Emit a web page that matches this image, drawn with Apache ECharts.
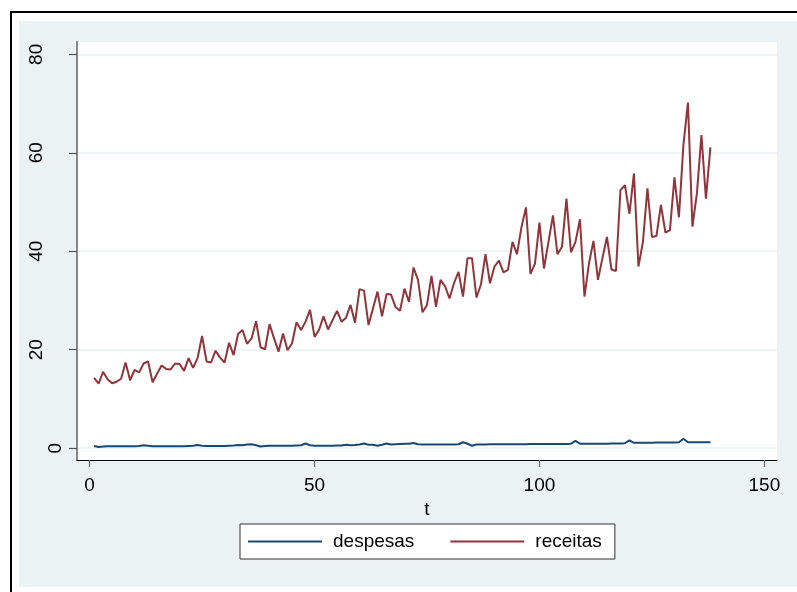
<!DOCTYPE html>
<html>
<head>
<meta charset="utf-8">
<script src="https://cdn.jsdelivr.net/npm/echarts@6/dist/echarts.min.js"></script>
<style>
html,body{margin:0;padding:0;background:#fff;}
#frame{position:absolute;left:10px;top:11px;width:787px;height:581px;border-left:2.5px solid #000;border-top:2.5px solid #000;box-sizing:border-box;}
#bg{position:absolute;left:19px;top:21px;width:778px;height:566px;background:#eaf2f3;}
#chart{position:absolute;left:0;top:0;width:797px;height:592px;}
</style>
</head>
<body>
<div id="frame"></div>
<div id="bg"></div>
<div id="chart"></div>
<script>
// time index t = 1..138
const t = Array.from({length: 138}, (_, i) => i + 1);

const receitas = [
  14.3,13.1,15.5,14.0,13.2,13.5,14.1,17.4,13.8,15.9,
  15.4,17.2,17.6,13.4,15.1,16.8,16.1,16.0,17.2,17.1,
  15.7,18.3,16.3,18.3,22.8,17.6,17.4,19.8,18.4,17.4,
  21.4,18.9,23.2,24.0,21.2,22.3,25.8,20.5,20.1,25.2,
  22.3,19.6,23.3,19.9,21.3,25.6,24.0,25.7,28.1,22.6,
  24.0,26.8,24.1,26.0,27.9,25.7,26.5,29.1,25.5,32.3,
  32.0,25.0,28.4,31.8,26.8,31.3,31.2,28.7,27.9,32.4,
  29.7,36.7,34.2,27.6,29.1,35.0,28.7,34.2,32.9,30.4,
  33.5,35.8,30.8,38.6,38.6,30.6,33.3,39.4,33.5,36.9,
  38.1,35.7,36.2,41.9,39.4,44.9,48.9,35.4,37.5,45.8,
  36.5,41.9,47.3,39.4,40.9,50.7,39.8,41.9,46.5,30.8,
  37.5,42.1,34.2,38.6,42.9,36.3,36.0,52.4,53.4,47.6,
  55.8,36.9,41.9,52.8,42.9,43.1,49.4,43.8,44.3,55.0,
  46.9,61.6,70.2,45.0,51.8,63.6,50.7,61.1
];

const despesas = [
  0.45,0.25,0.35,0.4,0.4,0.4,0.4,0.4,0.4,0.4,
  0.45,0.6,0.5,0.4,0.4,0.4,0.4,0.4,0.4,0.4,
  0.4,0.45,0.5,0.65,0.5,0.45,0.45,0.45,0.45,0.45,
  0.5,0.55,0.65,0.6,0.75,0.8,0.6,0.35,0.45,0.5,
  0.5,0.5,0.5,0.5,0.5,0.55,0.6,0.95,0.6,0.5,
  0.5,0.5,0.5,0.5,0.55,0.55,0.7,0.6,0.65,0.75,
  0.95,0.7,0.7,0.5,0.7,0.95,0.75,0.8,0.85,0.9,
  0.9,1.05,0.8,0.75,0.75,0.75,0.75,0.75,0.75,0.75,
  0.75,0.8,1.2,0.9,0.5,0.75,0.75,0.75,0.8,0.8,
  0.8,0.8,0.8,0.8,0.8,0.8,0.8,0.85,0.85,0.85,
  0.85,0.85,0.85,0.85,0.85,0.85,0.9,1.5,0.9,0.9,
  0.9,0.9,0.9,0.9,0.9,0.95,0.95,0.95,1.0,1.6,
  1.1,1.1,1.1,1.1,1.1,1.15,1.15,1.15,1.15,1.15,
  1.2,1.9,1.2,1.2,1.2,1.2,1.2,1.2
];

const xTicks = [0, 50, 100, 150];
const yTicks = [0, 20, 40, 60, 80];
const seriesNames = ['despesas', 'receitas'];
const xTitle = 't';

const FONT = '"Liberation Sans", Arial, sans-serif';
const chart = echarts.init(document.getElementById('chart'));
chart.setOption({
  backgroundColor: 'transparent',
  animation: false,
  textStyle: { fontFamily: FONT },
  grid: {
    left: 77, top: 42, right: 20, bottom: 132,
    show: true, backgroundColor: '#ffffff', borderWidth: 0
  },
  legend: {
    left: 240, top: 524,
    orient: 'horizontal',
    icon: 'rect',
    backgroundColor: '#ffffff',
    borderColor: '#333333', borderWidth: 1,
    padding: [8, 13, 8, 8],
    itemWidth: 74, itemHeight: 2, itemGap: 36,
    textStyle: { fontFamily: FONT, fontSize: 19, color: '#000', padding: [0, 0, 0, 6] },
    data: seriesNames
  },
  xAxis: {
    type: 'value', min: -2.8, max: 152.8,
    name: xTitle, nameLocation: 'middle', nameGap: 36,
    nameTextStyle: { fontFamily: FONT, fontSize: 19, color: '#000' },
    axisLine: { show: true, onZero: false, lineStyle: { color: '#000', width: 1.2 } },
    axisTick: { show: true, length: 7, customValues: xTicks, lineStyle: { color: '#666', width: 1.2 } },
    axisLabel: { customValues: xTicks, margin: 16, fontFamily: FONT, fontSize: 19, color: '#000' },
    splitLine: { show: false }
  },
  yAxis: {
    type: 'value', min: -2.4, max: 82.5,
    axisLine: { show: true, onZero: false, lineStyle: { color: '#7a7a7a', width: 1.8 } },
    axisTick: { show: true, length: 8, customValues: yTicks, lineStyle: { color: '#555', width: 1.2 } },
    axisLabel: {
      customValues: yTicks, rotate: 90, margin: 12,
      fontFamily: FONT, fontSize: 19, color: '#000',
      formatter: v => (v === 0 ? '{z|0}' : '{o|' + v + '}'),
      rich: {
        z: { fontFamily: FONT, fontSize: 19, color: '#000' },
        o: { fontFamily: FONT, fontSize: 19, color: '#000', padding: [0, 0, 19, 0] }
      }
    },
    splitLine: { show: true, lineStyle: { color: '#eaf2f3', width: 1.5 } }
  },
  series: [
    {
      name: seriesNames[0], type: 'line', symbol: 'none',
      lineStyle: { color: '#1a476f', width: 2 }, itemStyle: { color: '#1a476f' },
      data: t.map((x, i) => [x, despesas[i]])
    },
    {
      name: seriesNames[1], type: 'line', symbol: 'none',
      lineStyle: { color: '#90353b', width: 2 }, itemStyle: { color: '#90353b' },
      data: t.map((x, i) => [x, receitas[i]])
    }
  ]
});
</script>
</body>
</html>
